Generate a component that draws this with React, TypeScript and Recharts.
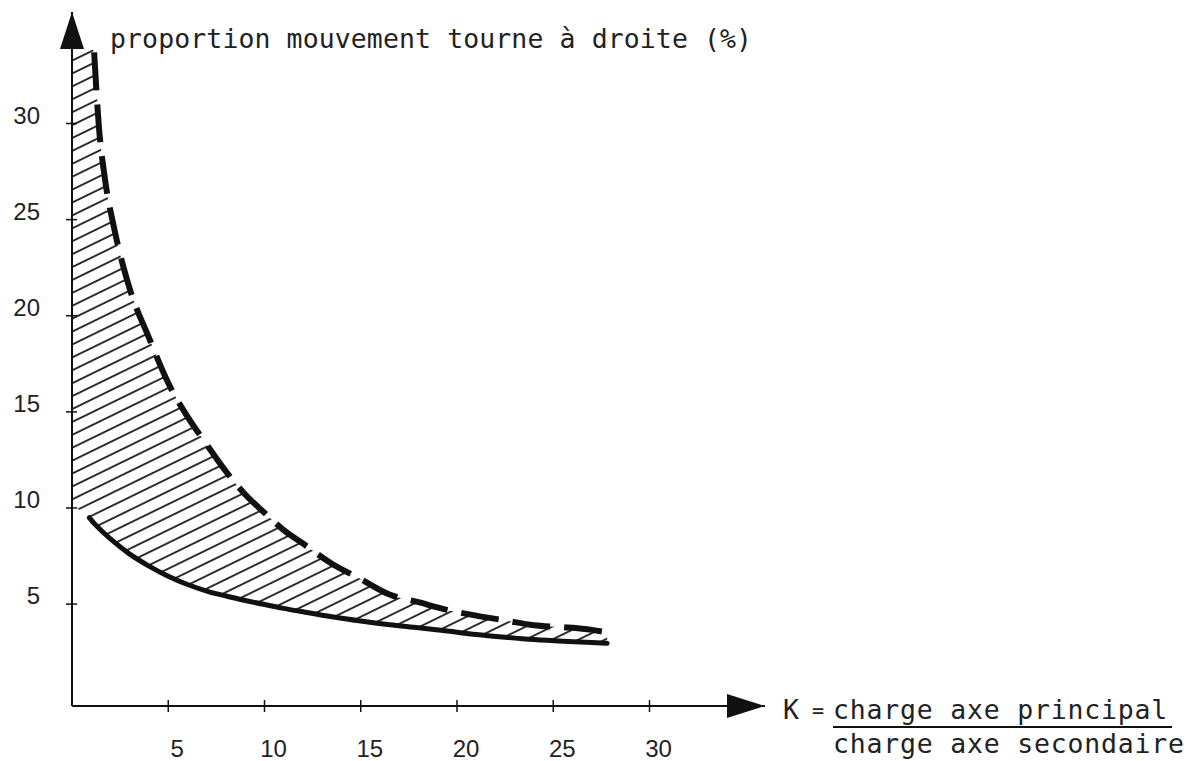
import React from 'react';
import { ComposedChart, Area, Line, XAxis, YAxis } from 'recharts';

// K = charge axe principal / charge axe secondaire
const kValues = [0, 0.9, 1.15, 1.4, 1.7, 2.2, 3, 4, 5, 6, 7, 8, 9, 10, 11, 12, 13.5, 15, 16.5, 18, 19.5, 21, 22.5, 24, 25.5, 27, 27.8];
// upper bound (dashed), % right turn
const dashedUpper = [null, null, 33.7, 29.8, 27.2, 24.5, 21.4, 18.85, 16.5, 14.75, 13.3, 11.9, 10.7, 9.75, 8.85, 8.15, 7.1, 6.3, 5.5, 5.1, 4.7, 4.4, 4.15, 3.9, 3.8, 3.66, 3.53];
// lower bound (solid)
const solidLower = [null, 9.5, 9.2, 8.95, 8.66, 8.22, 7.6, 6.98, 6.45, 6.02, 5.68, 5.42, 5.19, 4.98, 4.78, 4.6, 4.34, 4.12, 3.93, 3.77, 3.6, 3.42, 3.28, 3.16, 3.07, 3.0, 2.96];
// hatch touches the y axis between these values
const hatchTopAtAxis = 34;
const hatchBottomAtAxis = 10.1;

const xTicks = [5, 10, 15, 20, 25, 30];
const yTicks = [5, 10, 15, 20, 25, 30];

const yTitle = 'proportion mouvement tourne à droite (%)';
const xTitleTop = 'charge axe principal';
const xTitleBottom = 'charge axe secondaire';

const data = kValues.map((k, i) => ({
  k,
  upper: dashedUpper[i],
  lower: solidLower[i],
  band: [solidLower[i] ?? hatchBottomAtAxis, dashedUpper[i] ?? hatchTopAtAxis],
}));

const INK = '#111';
const MONO = '"DejaVu Sans Mono", monospace';
const SANS = '"Liberation Sans", Arial, sans-serif';

const XTick = ({ x, y, payload }: any) => (
  <g>
    <line x1={x} y1={y - 6} x2={x} y2={y + 6} stroke={INK} strokeWidth={1.5} />
    <text x={x + 9} y={y + 51} textAnchor="middle" fontFamily={SANS} fontSize={24} fill="#222">
      {payload.value}
    </text>
  </g>
);

const YTick = ({ x, y, payload }: any) => (
  <g>
    <line x1={x - 6} y1={y} x2={x + 5} y2={y} stroke={INK} strokeWidth={1.5} />
    <text x={x - 32} y={y} textAnchor="end" fontFamily={SANS} fontSize={24} fill="#222">
      {payload.value}
    </text>
  </g>
);

const YArrow = ({ viewBox }: any) => {
  const ax = viewBox.x + viewBox.width;
  const top = viewBox.y;
  return (
    <g>
      <polygon points={`${ax},${top} ${ax - 12},${top + 37} ${ax + 12},${top + 37}`} fill={INK} />
      <text x={ax + 38} y={top + 36} fontFamily={MONO} fontSize={26.5} letterSpacing={0.1} fill="#222">
        {yTitle}
      </text>
    </g>
  );
};

const XArrow = ({ viewBox }: any) => {
  const tip = viewBox.x + viewBox.width;
  const ay = viewBox.y;
  return (
    <g>
      <polygon points={`${tip},${ay} ${tip - 38},${ay - 12} ${tip - 38},${ay + 12}`} fill={INK} />
      <text x={tip + 18} y={ay + 13} fontFamily={MONO} fontSize={26.5} fill="#222">
        K
      </text>
      <text x={tip + 47} y={ay + 11} fontFamily={MONO} fontSize={20} fill="#222">
        =
      </text>
      <text x={tip + 68} y={ay + 13} fontFamily={MONO} fontSize={26.5} letterSpacing={0.8} fill="#222">
        {xTitleTop}
      </text>
      <line x1={tip + 68} y1={ay + 21} x2={tip + 407} y2={ay + 21} stroke={INK} strokeWidth={2} />
      <text x={tip + 68} y={ay + 47} fontFamily={MONO} fontSize={26.5} letterSpacing={0.8} fill="#222">
        {xTitleBottom}
      </text>
    </g>
  );
};

export default function App() {
  return (
    <ComposedChart
      width={1183}
      height={753}
      data={data}
      margin={{ top: 4, right: 426, bottom: 15, left: 4 }}
      style={{ background: '#fff' }}
    >
      <defs>
        <pattern id="hatch" patternUnits="userSpaceOnUse" width={20} height={11.6} patternTransform="rotate(-26)">
          <line x1={0} y1={5.8} x2={20} y2={5.8} stroke="#000" strokeWidth={1.6} />
        </pattern>
      </defs>
      <XAxis
        dataKey="k"
        type="number"
        domain={[0, 36]}
        allowDataOverflow
        ticks={xTicks}
        height={40}
        axisLine={{ stroke: INK, strokeWidth: 2 }}
        tickLine={false}
        tickSize={0}
        tickMargin={0}
        tick={<XTick />}
        label={<XArrow />}
      />
      <YAxis
        type="number"
        domain={[-0.3, 35.8]}
        allowDataOverflow
        ticks={yTicks}
        width={60}
        axisLine={{ stroke: INK, strokeWidth: 2 }}
        tickLine={false}
        tickSize={0}
        tickMargin={0}
        tick={<YTick />}
        label={<YArrow />}
      />
      <Area
        dataKey="band"
        type="monotone"
        stroke="none"
        fill="url(#hatch)"
        fillOpacity={1}
        isAnimationActive={false}
      />
      <Line
        dataKey="lower"
        type="monotone"
        stroke={INK}
        strokeWidth={5}
        strokeLinecap="round"
        dot={false}
        activeDot={false}
        isAnimationActive={false}
      />
      <Line
        dataKey="upper"
        type="monotone"
        stroke={INK}
        strokeWidth={6}
        strokeDasharray="38 14"
        dot={false}
        activeDot={false}
        isAnimationActive={false}
      />
    </ComposedChart>
  );
}
